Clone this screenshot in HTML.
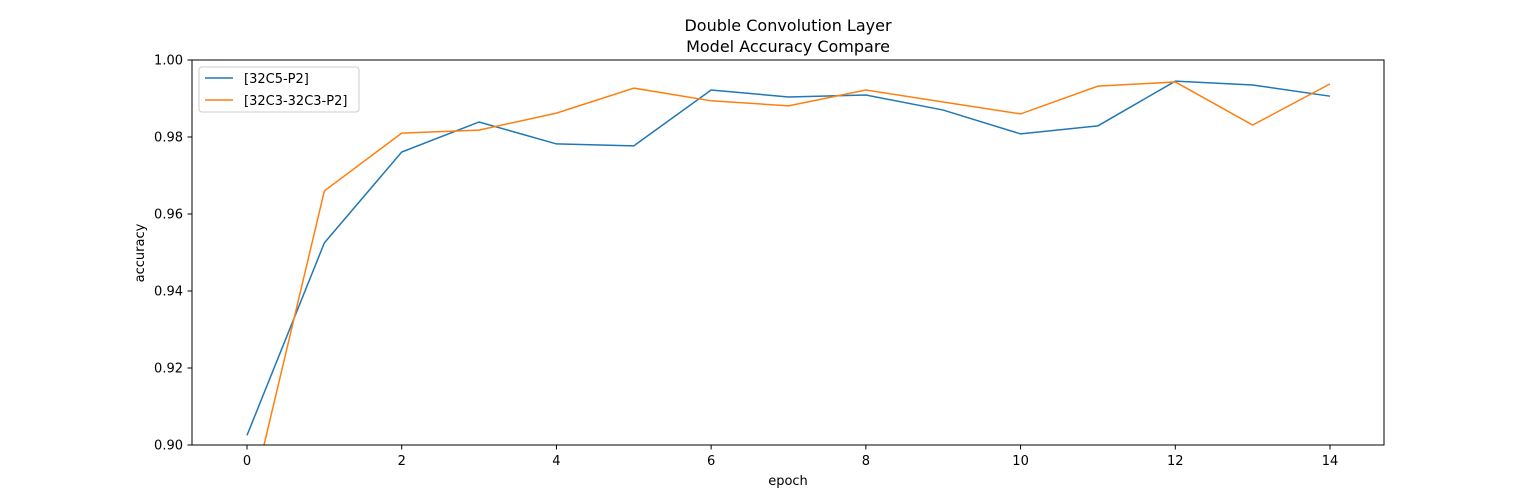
<!DOCTYPE html>
<html><head><meta charset="utf-8"><style>
body{margin:0;background:#fff;font-family:"DejaVu Sans","Liberation Sans",sans-serif;}
svg text{font-family:"DejaVu Sans","Liberation Sans",sans-serif;fill:#000}
</style></head><body>
<svg id="chart" width="1539" height="500">
<defs><clipPath id="plotclip"><rect x="192" y="60" width="1192" height="385"/></clipPath></defs>
<text x="788" y="31" font-size="16" text-anchor="middle">Double Convolution Layer</text>
<text x="788" y="52" font-size="16" text-anchor="middle">Model Accuracy Compare</text>
<g id="ticks"></g>
<g id="lines" clip-path="url(#plotclip)"></g>
<rect x="192" y="60" width="1192" height="385" fill="none" stroke="#000" stroke-width="1"/>
<text x="788" y="485" font-size="13" text-anchor="middle">epoch</text>
<text x="0" y="0" font-size="13" text-anchor="middle" transform="translate(144,253) rotate(-90)">accuracy</text>
<g>
<rect x="199" y="67" width="160" height="45" rx="3" fill="#fff" stroke="#ccc"/>
<line x1="205" y1="78" x2="233" y2="78" stroke="#1f77b4" stroke-width="1.5"/>
<text x="244" y="83" font-size="13">[32C5-P2]</text>
<line x1="205" y1="100" x2="233" y2="100" stroke="#ff7f0e" stroke-width="1.5"/>
<text x="244" y="105" font-size="13">[32C3-32C3-P2]</text>
</g>
</svg>
<script>
const epochs=[0,1,2,3,4,5,6,7,8,9,10,11,12,13,14];
const seriesA=[0.9025,0.9525,0.9761,0.9839,0.9782,0.9777,0.9922,0.9904,0.9909,0.9870,0.9808,0.9829,0.9945,0.9935,0.9906];
const seriesB=[0.8814,0.9660,0.9810,0.9818,0.9862,0.9927,0.9894,0.9881,0.9922,0.9891,0.9860,0.9932,0.9943,0.9831,0.9938];
const xTicks=[0,2,4,6,8,10,12,14];
const yTicks=[0.90,0.92,0.94,0.96,0.98,1.00];
const NS="http://www.w3.org/2000/svg";
const xs=v=>247+(v)*(1330-247)/14;
const ys=v=>445-(v-0.9)*3850;
const tg=document.getElementById('ticks');
xTicks.forEach(t=>{
 const l=document.createElementNS(NS,'line');
 l.setAttribute('x1',xs(t));l.setAttribute('x2',xs(t));l.setAttribute('y1',445);l.setAttribute('y2',449.5);l.setAttribute('stroke','#000');
 
 
 tg.appendChild(l);
 const tx=document.createElementNS(NS,'text');
 tx.setAttribute('x',xs(t));tx.setAttribute('y',465);tx.setAttribute('font-size','13');tx.setAttribute('text-anchor','middle');tx.textContent=t;
 
 
 tg.appendChild(tx);
});
yTicks.forEach(t=>{
 const l=document.createElementNS(NS,'line');
 l.setAttribute('x1',187.5);l.setAttribute('x2',192);l.setAttribute('y1',ys(t));l.setAttribute('y2',ys(t));l.setAttribute('stroke','#000');
 
 
 tg.appendChild(l);
 const tx=document.createElementNS(NS,'text');
 tx.setAttribute('x',183);tx.setAttribute('y',ys(t)+4.5);tx.setAttribute('font-size','13');tx.setAttribute('text-anchor','end');tx.textContent=t.toFixed(2);
 
 
 tg.appendChild(tx);
});
const lg=document.getElementById('lines');
[[seriesA,'#1f77b4','line-32c5-p2'],[seriesB,'#ff7f0e','line-32c3-32c3-p2']].forEach(([s,c,n])=>{
 const p=document.createElementNS(NS,'polyline');
 p.setAttribute('points',s.map((v,i)=>xs(epochs[i])+','+ys(v)).join(' '));
 p.setAttribute('fill','none');p.setAttribute('stroke',c);p.setAttribute('stroke-width','1.5');
 
 
 lg.appendChild(p);
});
</script>
</body></html>
